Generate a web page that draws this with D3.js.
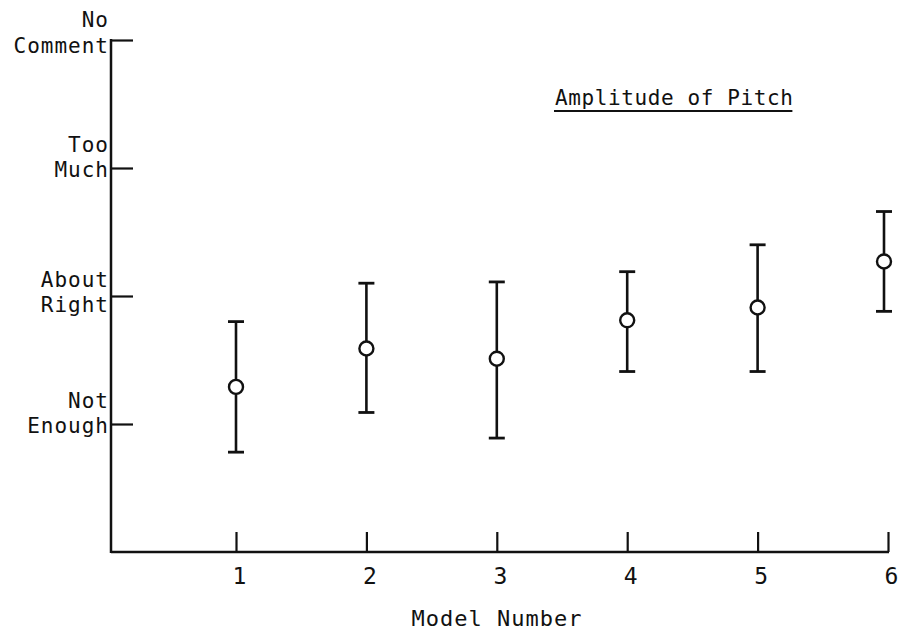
<!DOCTYPE html>
<html>
<head>
<meta charset="utf-8">
<script src="https://cdn.jsdelivr.net/npm/d3@7/dist/d3.min.js"></script>
<style>
  html, body { margin: 0; padding: 0; background: #fff; }
  svg { display: block; }
  text { font-family: "DejaVu Sans Mono", "Liberation Mono", monospace; fill: #111; }
</style>
</head>
<body>
<svg id="chart" width="900" height="633"></svg>
<script>
// Rating scale (0 = axis floor, 1..4 = labelled ratings)
const ratingValues = [1, 2, 3, 4];
const ratingLabels = [["Not", "Enough"], ["About", "Right"], ["Too", "Much"], ["No", "Comment"]];

// Model numbers along the horizontal axis
const models = [1, 2, 3, 4, 5, 6];

// Mean rating and spread for each model
const meanRating = [1.29, 1.59, 1.51, 1.81, 1.91, 2.27];
const upperRating = [1.80, 2.10, 2.11, 2.19, 2.40, 2.66];
const lowerRating = [0.78, 1.09, 0.89, 1.41, 1.41, 1.88];

const chartTitle = "Amplitude of Pitch";
const xTitle = "Model Number";

const svg = d3.select("#chart");
const ink = "#111";

const x = d3.scaleLinear().domain([0, 6]).range([105.6, 888]);
const y = d3.scaleLinear().domain([0, 4]).range([552, 40]);
const axisLeftX = 111;

// Horizontal axis: inward ticks, numeric labels
const gx = svg.append("g")
  .attr("transform", `translate(0,${y(0)})`)
  .call(d3.axisBottom(x).tickValues(models).tickSize(-20).tickSizeOuter(0).tickFormat(d3.format("d")));
gx.select(".domain").remove();
gx.selectAll(".tick line").attr("stroke", ink).attr("stroke-width", 2.2);
gx.selectAll(".tick text")
  .attr("y", 16).attr("dx", 3)
  .style("font-size", "23px").attr("fill", ink);
svg.append("line")
  .attr("x1", axisLeftX).attr("x2", x(6) + 1)
  .attr("y1", y(0)).attr("y2", y(0))
  .attr("stroke", ink).attr("stroke-width", 2.5);

// Vertical axis: inward ticks, two-line rating labels
const gy = svg.append("g")
  .attr("transform", `translate(${axisLeftX},0)`)
  .call(d3.axisLeft(y).tickValues(ratingValues).tickSize(-22).tickSizeOuter(0).tickFormat(""));
gy.select(".domain").remove();
gy.selectAll(".tick line").attr("stroke", ink).attr("stroke-width", 2.2);
svg.append("line")
  .attr("x1", axisLeftX).attr("x2", axisLeftX)
  .attr("y1", y(4) - 1).attr("y2", y(0) + 1)
  .attr("stroke", ink).attr("stroke-width", 2.5);

const labelShift = { 1: [-16, 9], 2: [-9, 16], 3: [-16, 9], 4: [-13, 13] };
ratingValues.forEach((v, i) => {
  const t = svg.append("text")
    .attr("text-anchor", "end")
    .style("font-size", "21px")
    .style("letter-spacing", "1px");
  ratingLabels[i].forEach((line, j) => {
    t.append("tspan")
      .attr("x", 109)
      .attr("y", y(v) + labelShift[v][j])
      .text(line);
  });
});

// Error bars with caps and open circle markers
const capHalf = 8;
const points = models.map((m, i) => ({ m, mean: meanRating[i], hi: upperRating[i], lo: lowerRating[i] }));
const bars = svg.append("g").attr("stroke", ink).attr("fill", "none");
points.forEach(d => {
  const cx = x(d.m) - (d.m === 6 ? 4 : 0);
  bars.append("line").attr("x1", cx).attr("x2", cx).attr("y1", y(d.hi)).attr("y2", y(d.lo)).attr("stroke-width", 2.6);
  bars.append("line").attr("x1", cx - capHalf).attr("x2", cx + capHalf).attr("y1", y(d.hi)).attr("y2", y(d.hi)).attr("stroke-width", 2.8);
  bars.append("line").attr("x1", cx - capHalf).attr("x2", cx + capHalf).attr("y1", y(d.lo)).attr("y2", y(d.lo)).attr("stroke-width", 2.8);
  bars.append("circle").attr("cx", cx).attr("cy", y(d.mean)).attr("r", 7)
    .attr("fill", "#fff").attr("stroke-width", 2.4);
});

// Underlined title inside the plot
const title = svg.append("text")
  .attr("x", 555).attr("y", 105)
  .style("font-size", "21px")
  .style("letter-spacing", "0.6px")
  .text(chartTitle);
const tw = title.node().getComputedTextLength();
svg.append("line")
  .attr("x1", 554).attr("x2", 554 + tw)
  .attr("y1", 111).attr("y2", 111)
  .attr("stroke", ink).attr("stroke-width", 2);

// Axis title
svg.append("text")
  .attr("x", 497).attr("y", 626)
  .attr("text-anchor", "middle")
  .style("font-size", "22px")
  .style("letter-spacing", "1px")
  .text(xTitle);
</script>
</body>
</html>
